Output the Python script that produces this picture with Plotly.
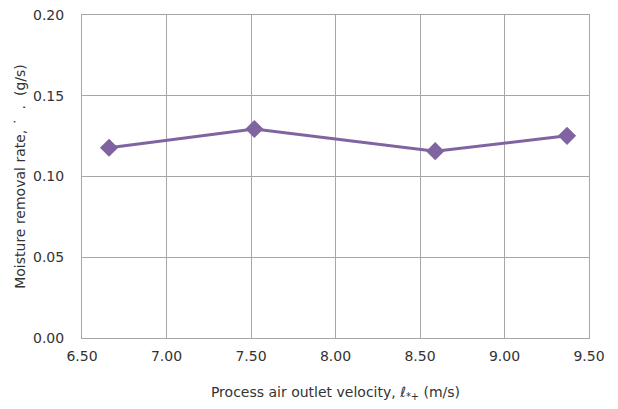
import plotly.graph_objects as go

velocity = [6.66, 7.52, 8.59, 9.37]
removal_rate = [0.1178, 0.1294, 0.1157, 0.1252]

x_ticks = [6.5, 7.0, 7.5, 8.0, 8.5, 9.0, 9.5]
x_labels = ["6.50", "7.00", "7.50", "8.00", "8.50", "9.00", "9.50"]
y_ticks = [0.0, 0.05, 0.10, 0.15, 0.20]
y_labels = ["0.00", "0.05", "0.10", "0.15", "0.20"]

color = "#8064A2"
font = "'DejaVu Sans', sans-serif"
txt = "#333333"

fig = go.Figure()
fig.add_trace(go.Scatter(
    x=velocity, y=removal_rate, mode="lines+markers",
    line=dict(color=color, width=3),
    marker=dict(symbol="diamond", size=14, color=color),
    showlegend=False,
))

axis_common = dict(
    showgrid=True, gridcolor="#a6a6a6", gridwidth=1,
    showline=True, linecolor="#a6a6a6", linewidth=1, mirror=True,
    ticks="", zeroline=False, automargin=False,
    ticklabeloverflow="allow",
    tickfont=dict(family=font, size=14, color=txt),
)

fig.update_layout(
    width=610, height=401,
    margin=dict(l=74, r=29, t=7, b=71),
    paper_bgcolor="white", plot_bgcolor="white",
    font=dict(family=font, color=txt),
    xaxis=dict(range=[6.5, 9.5], tickvals=x_ticks, ticktext=x_labels,
               ticklabelstandoff=5,
               title=dict(text="Process air outlet velocity, ℓ<sub>*+</sub> (m/s)",
                          font=dict(family=font, size=14, color=txt), standoff=24),
               **axis_common),
    yaxis=dict(range=[0, 0.20], tickvals=y_ticks, ticktext=y_labels,
               ticklabelstandoff=14,
               title=dict(text="Moisture removal rate, ˙  .  (g/s)",
                          font=dict(family=font, size=14, color=txt), standoff=4),
               **axis_common),
)

fig.write_html("out.html")
